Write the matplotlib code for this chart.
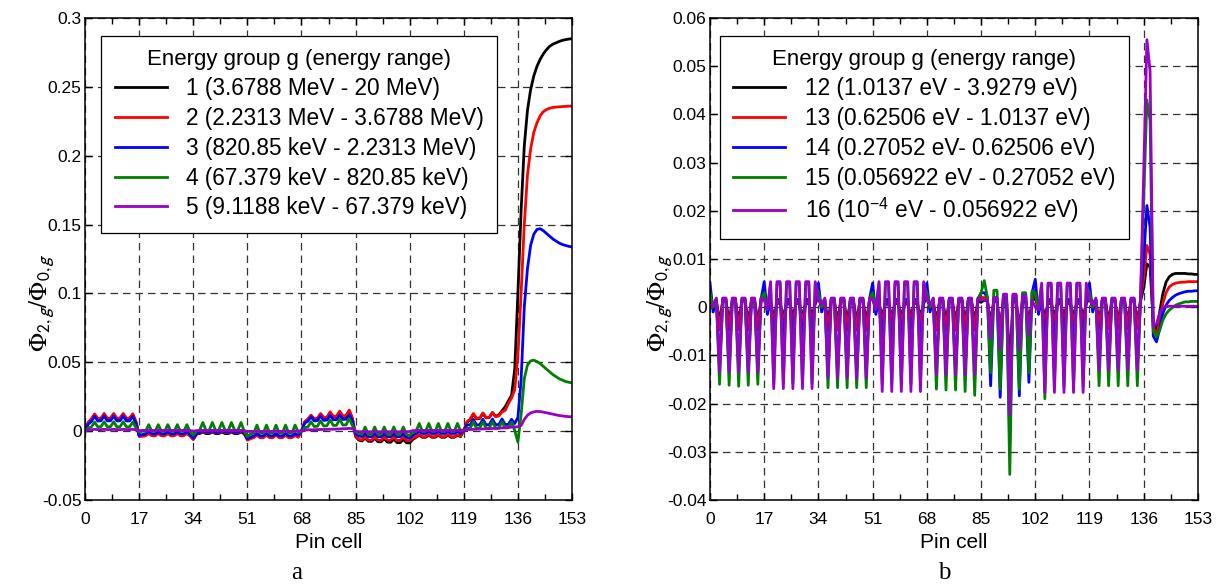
import numpy as np
import matplotlib
matplotlib.use("Agg")
import matplotlib.pyplot as plt
from matplotlib.ticker import MultipleLocator

plt.rcParams["font.family"] = ["Liberation Sans", "DejaVu Sans"]
plt.rcParams["mathtext.fontset"] = "stix"

# pin cell index 0..153 (17 pins per assembly, reflector after 136)
pins = np.arange(154)
x_ticks = [0, 17, 34, 51, 68, 85, 102, 119, 136, 153]

# ---- panel a : groups 1-5 ----
g1 = [0.0, 0.006, 0.0085, 0.0118, 0.0088, 0.009, 0.012, 0.0088, 0.009, 0.012, 0.0088, 0.009, 0.012, 0.0088, 0.009, 0.0118, 0.0065,
      -0.0028, -0.003, -0.0027, -0.0012, -0.0027, -0.0027, -0.0012, -0.0027, -0.0027, -0.0012, -0.0027, -0.0027, -0.0012, -0.0027, -0.0027, -0.0012, -0.003,
      -0.0045, -0.002, -0.0018, -0.0006, -0.0018, -0.0018, -0.0006, -0.0018, -0.0018, -0.0006, -0.0018, -0.0018, -0.0006, -0.0018, -0.0018, -0.0006, -0.002,
      -0.005, -0.0045, -0.004, -0.0025, -0.004, -0.004, -0.0025, -0.004, -0.004, -0.0025, -0.004, -0.004, -0.0025, -0.004, -0.004, -0.0025, -0.0035,
      0.0, 0.0063, 0.0083, 0.011, 0.0085, 0.0088, 0.0122, 0.0093, 0.0096, 0.0134, 0.0101, 0.0103, 0.014, 0.0105, 0.0108, 0.0148, 0.009,
      -0.004, -0.0065, -0.0072, -0.005, -0.0074, -0.0075, -0.0052, -0.0077, -0.0078, -0.0055, -0.008, -0.0081, -0.0058, -0.0083, -0.0084, -0.006, -0.0085,
      -0.0085, -0.006, -0.0045, -0.003, -0.0045, -0.0045, -0.003, -0.0045, -0.0045, -0.003, -0.0045, -0.0045, -0.003, -0.0045, -0.0045, -0.003, -0.004,
      0.0005, 0.0063, 0.0083, 0.0122, 0.0089, 0.0092, 0.0128, 0.0096, 0.0099, 0.0135, 0.0108, 0.0118, 0.0148, 0.0177, 0.022, 0.026, 0.045,
      0.1, 0.16, 0.207, 0.233, 0.248, 0.258, 0.265, 0.27, 0.274, 0.277, 0.2795, 0.281, 0.282, 0.283, 0.2838, 0.2843, 0.2847, 0.285]
g2 = [0.0, 0.0065, 0.009, 0.0125, 0.0092, 0.0094, 0.0128, 0.0093, 0.0095, 0.0128, 0.0093, 0.0095, 0.0128, 0.0093, 0.0094, 0.0126, 0.007,
      -0.0038, -0.0038, -0.0034, -0.0018, -0.0034, -0.0034, -0.0018, -0.0034, -0.0034, -0.0018, -0.0034, -0.0034, -0.0018, -0.0034, -0.0034, -0.0018, -0.0037,
      -0.0062, -0.0025, -0.0012, 0.0, -0.0012, -0.0012, 0.0, -0.0012, -0.0012, 0.0, -0.0012, -0.0012, 0.0, -0.0012, -0.0012, 0.0, -0.002,
      -0.0066, -0.0055, -0.0048, -0.003, -0.0048, -0.0048, -0.003, -0.0048, -0.0048, -0.003, -0.0048, -0.0048, -0.003, -0.0048, -0.0048, -0.003, -0.0045,
      0.0, 0.0068, 0.0088, 0.0116, 0.009, 0.0093, 0.0128, 0.0098, 0.0101, 0.014, 0.0106, 0.0108, 0.0145, 0.011, 0.0113, 0.0153, 0.0095,
      -0.0035, -0.0058, -0.0065, -0.004, -0.0065, -0.0065, -0.004, -0.0065, -0.0065, -0.004, -0.0066, -0.0066, -0.0042, -0.0067, -0.0067, -0.0043, -0.0068,
      -0.0068, -0.005, -0.004, -0.0025, -0.004, -0.004, -0.0025, -0.004, -0.004, -0.0025, -0.004, -0.004, -0.0025, -0.004, -0.004, -0.0025, -0.0035,
      0.0, 0.0068, 0.0088, 0.0128, 0.0093, 0.0096, 0.0132, 0.0098, 0.01, 0.0135, 0.0105, 0.011, 0.014, 0.015, 0.02, 0.024, 0.03,
      0.055, 0.1, 0.15, 0.186, 0.205, 0.217, 0.224, 0.229, 0.232, 0.2335, 0.2345, 0.235, 0.2353, 0.2355, 0.2357, 0.2358, 0.236, 0.236]
g3 = [0.0, 0.005, 0.007, 0.0108, 0.0073, 0.0075, 0.011, 0.0074, 0.0075, 0.011, 0.0074, 0.0075, 0.011, 0.0074, 0.0074, 0.0108, 0.0055,
      -0.0035, -0.0025, -0.002, -0.0004, -0.002, -0.002, -0.0004, -0.002, -0.002, -0.0004, -0.002, -0.002, -0.0004, -0.002, -0.002, -0.0004, -0.0025,
      -0.0052, -0.002, -0.0008, 0.0006, -0.0008, -0.0008, 0.0006, -0.0008, -0.0008, 0.0006, -0.0008, -0.0008, 0.0006, -0.0008, -0.0008, 0.0006, -0.0015,
      -0.0056, -0.0045, -0.0035, -0.0017, -0.0035, -0.0035, -0.0017, -0.0035, -0.0035, -0.0017, -0.0035, -0.0035, -0.0017, -0.0035, -0.0035, -0.0017, -0.003,
      0.0, 0.0058, 0.0072, 0.0104, 0.0074, 0.0076, 0.011, 0.0078, 0.008, 0.0115, 0.0082, 0.0083, 0.0118, 0.0085, 0.0086, 0.012, 0.0075,
      -0.002, -0.0035, -0.004, -0.002, -0.004, -0.004, -0.002, -0.004, -0.004, -0.002, -0.004, -0.004, -0.002, -0.004, -0.004, -0.002, -0.0045,
      -0.005, -0.003, -0.0017, -0.0003, -0.0017, -0.0017, -0.0003, -0.0017, -0.0017, -0.0003, -0.0017, -0.0017, -0.0003, -0.0017, -0.0017, -0.0003, -0.0015,
      0.0005, 0.0045, 0.0045, 0.0085, 0.0045, 0.0046, 0.0086, 0.0046, 0.0047, 0.0087, 0.0047, 0.0048, 0.0088, 0.0048, 0.0049, 0.0086, 0.0055,
      0.01, 0.037, 0.09, 0.118, 0.135, 0.143, 0.1465, 0.147, 0.1455, 0.1435, 0.1415, 0.1395, 0.138, 0.1365, 0.1355, 0.1348, 0.1342, 0.1337]
g4 = [0.0, 0.0022, 0.003, 0.0066, 0.0031, 0.0032, 0.0068, 0.0031, 0.0032, 0.0068, 0.0031, 0.0032, 0.0068, 0.0031, 0.0031, 0.0066, 0.0025,
      -0.0008, 0.0, -0.0002, 0.0047, -0.0002, -0.0002, 0.0047, -0.0002, -0.0002, 0.0047, -0.0002, -0.0002, 0.0047, -0.0002, -0.0002, 0.0047, -0.0005,
      -0.003, 0.0, 0.0006, 0.0063, 0.0006, 0.0006, 0.0063, 0.0006, 0.0006, 0.0063, 0.0006, 0.0006, 0.0063, 0.0006, 0.0006, 0.0063, 0.0,
      -0.004, -0.002, -0.0015, 0.0044, -0.0015, -0.0015, 0.0044, -0.0015, -0.0015, 0.0044, -0.0015, -0.0015, 0.0044, -0.0015, -0.0015, 0.0044, -0.001,
      0.0, 0.0025, 0.003, 0.0068, 0.0033, 0.0035, 0.0075, 0.0037, 0.0039, 0.0082, 0.0041, 0.0042, 0.0087, 0.0044, 0.0045, 0.0092, 0.004,
      -0.0005, -0.0015, -0.0024, 0.003, -0.0024, -0.0024, 0.003, -0.0024, -0.0024, 0.003, -0.0024, -0.0024, 0.003, -0.0024, -0.0024, 0.003, -0.0025,
      -0.003, -0.001, -0.0002, 0.0056, -0.0002, -0.0002, 0.0056, -0.0002, -0.0002, 0.0056, -0.0002, -0.0002, 0.0056, -0.0002, -0.0002, 0.0056, 0.0,
      0.0005, 0.002, 0.002, 0.0068, 0.002, 0.0021, 0.0068, 0.0021, 0.0022, 0.0068, 0.0022, 0.0023, 0.0068, 0.0023, 0.0024, 0.0066, 0.0005,
      -0.008, 0.012, 0.038, 0.048, 0.051, 0.0515, 0.0505, 0.049, 0.047, 0.045, 0.043, 0.041, 0.0395, 0.038, 0.037, 0.036, 0.0355, 0.035]
g5 = [0.0, 0.0008, 0.001, 0.0013, 0.0011, 0.0011, 0.0013, 0.0011, 0.0011, 0.0013, 0.0011, 0.0011, 0.0013, 0.0011, 0.0011, 0.0013, 0.001,
      0.0003, 0.0005, 0.0005, 0.0007, 0.0005, 0.0005, 0.0007, 0.0005, 0.0005, 0.0007, 0.0005, 0.0005, 0.0007, 0.0005, 0.0005, 0.0007, 0.0004,
      0.0, 0.0003, 0.0004, 0.0005, 0.0004, 0.0004, 0.0005, 0.0004, 0.0004, 0.0005, 0.0004, 0.0004, 0.0005, 0.0004, 0.0004, 0.0005, 0.0003,
      -0.0002, -0.0002, -0.0002, 0.0, -0.0002, -0.0002, 0.0, -0.0002, -0.0002, 0.0, -0.0002, -0.0002, 0.0, -0.0002, -0.0002, 0.0, 0.0,
      0.0004, 0.0008, 0.0009, 0.001, 0.001, 0.0011, 0.0012, 0.0012, 0.0013, 0.0014, 0.0014, 0.0015, 0.0016, 0.0017, 0.0018, 0.002, 0.0018,
      0.0, -0.0004, -0.0005, -0.0003, -0.0005, -0.0005, -0.0003, -0.0005, -0.0005, -0.0003, -0.0005, -0.0005, -0.0003, -0.0005, -0.0005, -0.0003, -0.0004,
      -0.0003, 0.0004, 0.0005, 0.0006, 0.0005, 0.0005, 0.0006, 0.0005, 0.0005, 0.0006, 0.0005, 0.0005, 0.0006, 0.0005, 0.0005, 0.0006, 0.0006,
      0.0008, 0.0012, 0.0012, 0.0013, 0.0014, 0.0015, 0.0016, 0.0017, 0.0018, 0.0019, 0.002, 0.0021, 0.0023, 0.0025, 0.0027, 0.0029, 0.003,
      0.0032, 0.004, 0.0085, 0.0115, 0.0132, 0.014, 0.0143, 0.0142, 0.0138, 0.0133, 0.0128, 0.0123, 0.0118, 0.0113, 0.011, 0.0107, 0.0105, 0.0104]

# ---- panel b : groups 12-16 ----
g12 = [0.002, 0.0, 0.0013, -0.003, 0.0013, 0.0013, -0.003, 0.0013, 0.0013, -0.003, 0.0013, 0.0013, -0.003, 0.0013, 0.0013, -0.003, 0.0013,
       0.002, -0.0005, 0.0008, -0.002, 0.0008, 0.0008, -0.002, 0.0008, 0.0008, -0.002, 0.0008, 0.0008, -0.002, 0.0008, 0.0008, -0.002, 0.0008,
       0.002, 0.0, 0.0013, -0.003, 0.0013, 0.0013, -0.003, 0.0013, 0.0013, -0.003, 0.0013, 0.0013, -0.003, 0.0013, 0.0013, -0.003, 0.0013,
       0.002, -0.0005, 0.0008, -0.002, 0.0008, 0.0008, -0.002, 0.0008, 0.0008, -0.002, 0.0008, 0.0008, -0.002, 0.0008, 0.0008, -0.002, 0.0008,
       0.002, 0.0, 0.0013, -0.003, 0.0013, 0.0013, -0.003, 0.0013, 0.0013, -0.003, 0.0013, 0.0013, -0.003, 0.0013, 0.0013, -0.003, 0.0013,
       0.001, 0.0015, 0.0012, -0.003, 0.0012, 0.0012, -0.004, 0.0012, 0.0012, -0.012, 0.0012, 0.0012, -0.004, 0.0012, 0.0012, -0.003, 0.0012,
       0.002, -0.0005, 0.0008, -0.002, 0.0008, 0.0008, -0.002, 0.0008, 0.0008, -0.002, 0.0008, 0.0008, -0.002, 0.0008, 0.0008, -0.002, 0.0008,
       0.002, 0.0, 0.0013, -0.003, 0.0013, 0.0013, -0.003, 0.0013, 0.0013, -0.003, 0.0013, 0.0013, -0.003, 0.0013, 0.0013, -0.003, 0.0013,
       0.004, 0.009, 0.0083, -0.003, -0.005, -0.001, 0.0028, 0.0052, 0.0063, 0.0068, 0.007, 0.007, 0.007, 0.007, 0.0069, 0.0069, 0.0068, 0.0068]
g13 = [0.0035, -0.0005, 0.0015, -0.0047, 0.0015, 0.0015, -0.0047, 0.0015, 0.0015, -0.0047, 0.0015, 0.0015, -0.0047, 0.0015, 0.0015, -0.0047, 0.0015,
       0.0035, -0.001, 0.001, -0.0034, 0.001, 0.001, -0.0034, 0.001, 0.001, -0.0034, 0.001, 0.001, -0.0034, 0.001, 0.001, -0.0034, 0.001,
       0.0035, -0.0005, 0.0015, -0.0048, 0.0015, 0.0015, -0.0048, 0.0015, 0.0015, -0.0048, 0.0015, 0.0015, -0.0048, 0.0015, 0.0015, -0.0048, 0.0015,
       0.0035, -0.001, 0.001, -0.0034, 0.001, 0.001, -0.0034, 0.001, 0.001, -0.0034, 0.001, 0.001, -0.0034, 0.001, 0.001, -0.0034, 0.001,
       0.0035, -0.0005, 0.0015, -0.0048, 0.0015, 0.0015, -0.0048, 0.0015, 0.0015, -0.0048, 0.0015, 0.0015, -0.0048, 0.0015, 0.0015, -0.0048, 0.0015,
       0.002, 0.002, 0.0015, -0.005, 0.0015, 0.0015, -0.006, 0.0015, 0.0015, -0.02, 0.0015, 0.0015, -0.006, 0.0015, 0.0015, -0.005, 0.0015,
       0.0035, -0.001, 0.001, -0.0035, 0.001, 0.001, -0.0035, 0.001, 0.001, -0.0035, 0.001, 0.001, -0.0035, 0.001, 0.001, -0.0035, 0.001,
       0.0035, -0.0005, 0.0015, -0.0045, 0.0015, 0.0015, -0.0045, 0.0015, 0.0015, -0.0045, 0.0015, 0.0015, -0.0045, 0.0015, 0.0015, -0.0045, 0.0015,
       0.006, 0.0128, 0.011, -0.004, -0.006, -0.003, 0.0008, 0.003, 0.0042, 0.0047, 0.005, 0.0051, 0.0052, 0.0052, 0.0053, 0.0053, 0.0053, 0.0053]
g14 = [0.005, -0.001, 0.0016, -0.0125, 0.0016, 0.0016, -0.0125, 0.0016, 0.0016, -0.0125, 0.0016, 0.0016, -0.0125, 0.0016, 0.0016, -0.0125, 0.0016,
       0.0053, -0.0015, 0.0016, -0.0075, 0.0016, 0.0016, -0.0075, 0.0016, 0.0016, -0.0075, 0.0016, 0.0016, -0.0075, 0.0016, 0.0016, -0.0075, 0.0016,
       0.005, -0.001, 0.0016, -0.013, 0.0016, 0.0016, -0.013, 0.0016, 0.0016, -0.013, 0.0016, 0.0016, -0.013, 0.0016, 0.0016, -0.013, 0.0016,
       0.005, -0.0015, 0.0016, -0.0078, 0.0016, 0.0016, -0.0078, 0.0016, 0.0016, -0.0078, 0.0016, 0.0016, -0.0078, 0.0016, 0.0016, -0.0078, 0.0016,
       0.005, -0.001, 0.0016, -0.013, 0.0016, 0.0016, -0.013, 0.0016, 0.0016, -0.013, 0.0016, 0.0016, -0.013, 0.0016, 0.0016, -0.013, 0.0016,
       0.003, 0.003, 0.002, -0.0163, 0.002, 0.002, -0.0187, 0.002, 0.002, -0.028, 0.002, 0.002, -0.0184, 0.002, 0.002, -0.0156, 0.003,
       0.0058, -0.0015, 0.0016, -0.008, 0.0016, 0.0016, -0.008, 0.0016, 0.0016, -0.008, 0.0016, 0.0016, -0.008, 0.0016, 0.0016, -0.008, 0.0016,
       0.005, -0.001, 0.0016, -0.012, 0.0016, 0.0016, -0.012, 0.0016, 0.0016, -0.012, 0.0016, 0.0016, -0.012, 0.0016, 0.0016, -0.012, 0.0016,
       0.01, 0.0211, 0.0166, -0.006, -0.0072, -0.0045, -0.0013, 0.0004, 0.0014, 0.002, 0.0025, 0.0028, 0.003, 0.0032, 0.0033, 0.0033, 0.0034, 0.0034]
g15 = [0.003, 0.0, 0.0017, -0.016, 0.0017, 0.0017, -0.0162, 0.0017, 0.0017, -0.0164, 0.0017, 0.0017, -0.0162, 0.0017, 0.0017, -0.016, 0.0017,
       0.003, -0.0005, 0.0048, -0.0158, 0.0048, 0.0048, -0.0158, 0.0048, 0.0048, -0.0158, 0.0048, 0.0048, -0.0158, 0.0048, 0.0048, -0.0158, 0.0048,
       0.003, 0.0, 0.0017, -0.0167, 0.0017, 0.0017, -0.0167, 0.0017, 0.0017, -0.0167, 0.0017, 0.0017, -0.0167, 0.0017, 0.0017, -0.0167, 0.0017,
       0.003, -0.0005, 0.0048, -0.016, 0.0048, 0.0048, -0.016, 0.0048, 0.0048, -0.016, 0.0048, 0.0048, -0.016, 0.0048, 0.0048, -0.016, 0.0048,
       0.003, 0.0, 0.0017, -0.017, 0.0017, 0.0017, -0.0172, 0.0017, 0.0017, -0.0172, 0.0017, 0.0017, -0.0175, 0.0017, 0.0017, -0.0183, 0.0017,
       0.003, 0.0055, 0.002, -0.0136, 0.0035, 0.0035, -0.017, 0.0025, 0.0025, -0.0347, 0.0024, 0.0024, -0.017, 0.003, 0.003, -0.0136, 0.0034,
       0.003, -0.0005, 0.0045, -0.019, 0.0045, 0.0045, -0.0165, 0.0045, 0.0045, -0.0165, 0.0045, 0.0045, -0.0165, 0.0045, 0.0045, -0.0165, 0.0045,
       0.003, 0.0, 0.0017, -0.0163, 0.0017, 0.0017, -0.0163, 0.0017, 0.0017, -0.0163, 0.0017, 0.0017, -0.0163, 0.0017, 0.0017, -0.0163, 0.0017,
       0.022, 0.043, 0.0387, -0.005, -0.0062, -0.0048, -0.0027, -0.0014, -0.0006, -0.0001, 0.0004, 0.0007, 0.0009, 0.0011, 0.0011, 0.0012, 0.0012, 0.0012]
g16 = [0.0, 0.0005, 0.0019, -0.0135, 0.0019, 0.0019, -0.0135, 0.0019, 0.0019, -0.0135, 0.0019, 0.0019, -0.0135, 0.0019, 0.0019, -0.0135, 0.0019,
       0.0015, -0.0005, 0.0053, -0.0169, 0.0053, 0.0053, -0.0169, 0.0053, 0.0053, -0.0169, 0.0053, 0.0053, -0.0169, 0.0053, 0.0053, -0.0169, 0.0053,
       0.0015, 0.0005, 0.0019, -0.0147, 0.0019, 0.0019, -0.0147, 0.0019, 0.0019, -0.0147, 0.0019, 0.0019, -0.0147, 0.0019, 0.0019, -0.0147, 0.0019,
       0.0015, -0.0005, 0.0053, -0.0175, 0.0053, 0.0053, -0.0175, 0.0053, 0.0053, -0.0175, 0.0053, 0.0053, -0.0175, 0.0053, 0.0053, -0.0175, 0.0053,
       0.0015, 0.0005, 0.0019, -0.014, 0.0019, 0.0019, -0.014, 0.0019, 0.0019, -0.014, 0.0019, 0.0019, -0.014, 0.0019, 0.0019, -0.014, 0.0019,
       0.0015, 0.0015, 0.0015, -0.0065, 0.002, 0.002, -0.0088, 0.0027, 0.0027, -0.0224, 0.0027, 0.0027, -0.0088, 0.0025, 0.0025, -0.006, 0.0014,
       0.0, -0.0005, 0.005, -0.0177, 0.005, 0.005, -0.0177, 0.005, 0.005, -0.0177, 0.005, 0.005, -0.0177, 0.005, 0.005, -0.0177, 0.005,
       0.0015, 0.0005, 0.0019, -0.013, 0.0019, 0.0019, -0.013, 0.0019, 0.0019, -0.013, 0.0019, 0.0019, -0.013, 0.0019, 0.0019, -0.013, 0.0019,
       0.028, 0.0555, 0.049, -0.004, -0.0035, -0.0013, 0.0, 0.0001, 0.0002, 0.0002, 0.0002, 0.0002, 0.0002, 0.0002, 0.0002, 0.0002, 0.0002, 0.0002]

labels_a = ["1 (3.6788 MeV - 20 MeV)", "2 (2.2313 MeV - 3.6788 MeV)",
            "3 (820.85 keV - 2.2313 MeV)", "4 (67.379 keV - 820.85 keV)",
            "5 (9.1188 keV - 67.379 keV)"]
labels_b = ["12 (1.0137 eV - 3.9279 eV)", "13 (0.62506 eV - 1.0137 eV)",
            "14 (0.27052 eV- 0.62506 eV)", "15 (0.056922 eV - 0.27052 eV)",
            "16 (10$^{\\mathregular{-4}}$ eV - 0.056922 eV)"]
yticks_a = [-0.05, 0, 0.05, 0.1, 0.15, 0.2, 0.25, 0.3]
ylabels_a = ["-0.05", "0", "0.05", "0.1", "0.15", "0.2", "0.25", "0.3"]
yticks_b = [-0.04, -0.03, -0.02, -0.01, 0, 0.01, 0.02, 0.03, 0.04, 0.05, 0.06]
ylabels_b = ["-0.04", "-0.03", "-0.02", "-0.01", "0", "0.01", "0.02", "0.03", "0.04", "0.05", "0.06"]

colors = ["#000000", "#FF0000", "#0000FF", "#008000", "#9900CC"]

fig = plt.figure(figsize=(12.22, 5.88), dpi=100)
ax_a = fig.add_axes([0.0696, 0.1497, 0.3985, 0.8197])
ax_b = fig.add_axes([0.5810, 0.1497, 0.3993, 0.8197])


def style_axes(ax, yticks, ylabels, ylim, ylab_x):
    ax.set_xlim(0, 153)
    ax.set_ylim(*ylim)
    ax.set_xticks(x_ticks)
    ax.set_yticks(yticks)
    ax.set_yticklabels(ylabels)
    ax.xaxis.set_minor_locator(MultipleLocator(8.5))
    ax.tick_params(which="major", direction="in", top=True, right=True,
                   length=5, width=1, labelsize=12.5)
    ax.tick_params(axis="x", which="major", pad=9)
    ax.tick_params(axis="y", which="major", pad=2.5)
    ax.tick_params(which="minor", direction="in", top=True, length=4, width=1)
    ax.grid(True, which="major", linestyle=(0, (6, 4)), color="0.2", lw=0.9)
    ax.set_axisbelow(True)
    for s in ax.spines.values():
        s.set_linewidth(1.1)
    ax.set_xlabel("Pin cell", fontsize=15)
    ax.xaxis.set_label_coords(0.5, -0.089)
    ax.xaxis.label.set_va("center")
    ax.set_ylabel(r"$\Phi_{\mathsf{2,g}}/\Phi_{\mathsf{0,g}}$", fontsize=18)
    ax.yaxis.set_label_coords(ylab_x, 0.41)
    ax.yaxis.label.set_va("center")


for ys, c, lab in zip([g1, g2, g3, g4, g5], colors, labels_a):
    ax_a.plot(pins, ys, color=c, lw=2.0, label=lab)
for ys, c, lab in zip([g12, g13, g14, g15, g16], colors, labels_b):
    ax_b.plot(pins, ys, color=c, lw=2.0, label=lab)

style_axes(ax_a, yticks_a, ylabels_a, (-0.05, 0.3), -0.088)
style_axes(ax_b, yticks_b, ylabels_b, (-0.04, 0.06), -0.103)

for ax, anchor in [(ax_a, (0.033, 0.963)), (ax_b, (0.02, 0.963))]:
    leg = ax.legend(loc="upper left", bbox_to_anchor=anchor, borderaxespad=0,
                    title="Energy group g (energy range)", fontsize=16.3,
                    title_fontsize=16, frameon=True, fancybox=False,
                    framealpha=1, edgecolor="black", handlelength=2.3,
                    handletextpad=0.85, labelspacing=0.3, borderpad=0.6)
    leg.get_frame().set_linewidth(0.9)
    for line in leg.get_lines():
        line.set_linewidth(2.0)

fig.text(0.243, 0.0255, "a", fontsize=18, family="Liberation Serif",
         ha="center", va="center")
fig.text(0.773, 0.0255, "b", fontsize=18, family="Liberation Serif",
         ha="center", va="center")

fig.savefig("out.png", dpi=100)
